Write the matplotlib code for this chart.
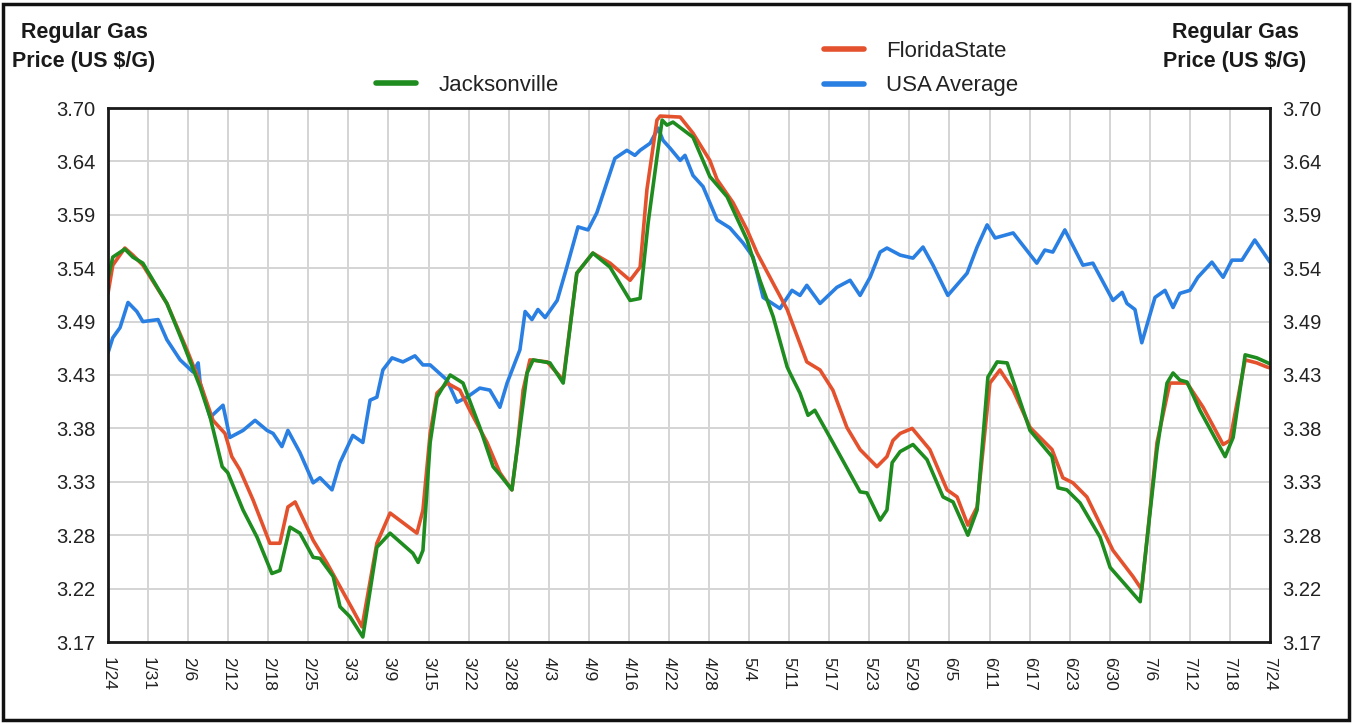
import matplotlib
matplotlib.use("Agg")
import matplotlib.pyplot as plt
from matplotlib.patches import Rectangle

plt.rcParams['font.family'] = ['Liberation Sans', 'DejaVu Sans']

# ---------------- data ----------------
date_labels = ["1/24", "1/31", "2/6", "2/12", "2/18", "2/25", "3/3", "3/9", "3/15", "3/22",
               "3/28", "4/3", "4/9", "4/16", "4/22", "4/28", "5/4", "5/11", "5/17", "5/23",
               "5/29", "6/5", "6/11", "6/17", "6/23", "6/30", "7/6", "7/12", "7/18", "7/24"]
y_ticks = [3.17, 3.223, 3.276, 3.329, 3.382, 3.435, 3.488, 3.541, 3.594, 3.647, 3.70]
y_tick_labels = ["3.17", "3.22", "3.28", "3.33", "3.38", "3.43", "3.49", "3.54", "3.59", "3.64", "3.70"]

# x positions in units of date-label intervals
jax_x = [0.00, 0.12, 0.42, 0.62, 0.87, 1.17, 1.47, 1.87, 2.30, 2.55, 2.85, 2.99, 3.37, 3.72,
         4.09, 4.29, 4.54, 4.79, 5.12, 5.29, 5.62, 5.79, 6.04, 6.36, 6.71, 7.04, 7.61, 7.74,
         7.86, 8.04, 8.21, 8.54, 8.86, 9.28, 9.61, 9.78, 10.08, 10.21, 10.46, 10.61, 11.03,
         11.36, 11.70, 12.10, 12.53, 13.03, 13.28, 13.48, 13.70, 13.83, 13.95, 14.10, 14.60,
         15.02, 15.45, 15.60, 15.95, 16.27, 16.60, 16.95, 17.02, 17.27, 17.47, 17.64, 18.09,
         18.77, 18.94, 19.27, 19.44, 19.57, 19.77, 20.09, 20.44, 20.84, 21.09, 21.46, 21.69,
         21.96, 22.19, 22.44, 23.01, 23.56, 23.71, 23.93, 24.26, 24.76, 25.01, 25.43, 25.76,
         26.18, 26.43, 26.58, 26.75, 26.93, 27.25, 27.88, 28.08, 28.38, 28.67, 28.95, 29.00]
jax_y = [3.531, 3.552, 3.560, 3.552, 3.546, 3.526, 3.506, 3.467, 3.423, 3.393, 3.344, 3.338,
         3.301, 3.274, 3.238, 3.241, 3.284, 3.278, 3.254, 3.253, 3.235, 3.205, 3.195, 3.175,
         3.264, 3.278, 3.258, 3.249, 3.261, 3.368, 3.413, 3.435, 3.427, 3.383, 3.344, 3.336,
         3.321, 3.361, 3.437, 3.450, 3.447, 3.427, 3.536, 3.556, 3.542, 3.509, 3.511, 3.586,
         3.651, 3.688, 3.683, 3.686, 3.671, 3.632, 3.612, 3.599, 3.569, 3.529, 3.493, 3.443,
         3.437, 3.417, 3.395, 3.400, 3.368, 3.319, 3.318, 3.291, 3.301, 3.348, 3.359, 3.366,
         3.351, 3.314, 3.309, 3.276, 3.301, 3.433, 3.448, 3.447, 3.380, 3.354, 3.323, 3.321,
         3.308, 3.274, 3.244, 3.225, 3.210, 3.361, 3.427, 3.437, 3.430, 3.428, 3.400, 3.354,
         3.373, 3.455, 3.452, 3.447, 3.446]

fl_x = [0.00, 0.12, 0.42, 0.62, 0.87, 1.47, 1.97, 2.30, 2.62, 2.92, 3.09, 3.29, 3.62, 4.04,
        4.29, 4.49, 4.67, 5.12, 5.47, 5.79, 6.11, 6.34, 6.71, 7.04, 7.71, 7.86, 8.04, 8.21,
        8.46, 8.78, 9.03, 9.46, 9.78, 10.08, 10.21, 10.36, 10.53, 10.96, 11.36, 11.70, 12.10,
        12.53, 13.03, 13.28, 13.45, 13.70, 13.78, 14.28, 14.60, 15.02, 15.20, 15.60, 15.95,
        16.20, 16.60, 16.95, 17.44, 17.77, 18.09, 18.44, 18.77, 19.19, 19.44, 19.59, 19.77,
        20.07, 20.51, 20.94, 21.19, 21.46, 21.69, 22.01, 22.26, 22.59, 23.01, 23.56, 23.83,
        24.08, 24.43, 25.08, 25.58, 25.80, 26.18, 26.50, 26.93, 27.33, 27.83, 28.00, 28.38,
        28.67, 28.92, 29.00]
fl_y = [3.516, 3.544, 3.561, 3.554, 3.544, 3.506, 3.460, 3.427, 3.390, 3.377, 3.354, 3.341,
        3.311, 3.268, 3.268, 3.304, 3.309, 3.271, 3.248, 3.225, 3.202, 3.185, 3.268, 3.298,
        3.278, 3.301, 3.377, 3.417, 3.427, 3.420, 3.400, 3.368, 3.338, 3.321, 3.361, 3.420,
        3.450, 3.448, 3.430, 3.536, 3.556, 3.546, 3.529, 3.542, 3.619, 3.688, 3.692, 3.691,
        3.675, 3.648, 3.629, 3.606, 3.579, 3.556, 3.526, 3.500, 3.448, 3.440, 3.420, 3.383,
        3.361, 3.344, 3.354, 3.370, 3.377, 3.382, 3.361, 3.321, 3.314, 3.286, 3.304, 3.427,
        3.440, 3.420, 3.383, 3.361, 3.333, 3.328, 3.314, 3.261, 3.235, 3.222, 3.368, 3.427,
        3.427, 3.403, 3.366, 3.370, 3.450, 3.447, 3.443, 3.442]

usa_x = [0.00, 0.12, 0.30, 0.50, 0.72, 0.87, 1.25, 1.47, 1.80, 2.12, 2.25, 2.30, 2.55, 2.87,
         3.04, 3.37, 3.67, 3.97, 4.12, 4.34, 4.49, 4.79, 5.12, 5.29, 5.59, 5.79, 6.11, 6.36,
         6.54, 6.71, 6.86, 7.09, 7.36, 7.66, 7.86, 8.04, 8.46, 8.71, 8.96, 9.28, 9.53, 9.78,
         9.96, 10.28, 10.41, 10.58, 10.73, 10.91, 11.21, 11.45, 11.73, 11.98, 12.20, 12.65,
         12.95, 13.15, 13.28, 13.53, 13.73, 13.85, 14.03, 14.28, 14.40, 14.60, 14.85, 15.20,
         15.52, 15.85, 16.10, 16.35, 16.77, 17.07, 17.27, 17.44, 17.77, 18.19, 18.52, 18.77,
         19.02, 19.27, 19.44, 19.77, 20.09, 20.34, 20.59, 20.96, 21.44, 21.69, 21.94, 22.14,
         22.59, 23.18, 23.38, 23.58, 23.88, 24.33, 24.58, 25.08, 25.31, 25.43, 25.63, 25.80,
         26.13, 26.38, 26.58, 26.75, 27.00, 27.20, 27.55, 27.83, 28.05, 28.30, 28.62, 29.00]
usa_y = [3.457, 3.472, 3.482, 3.507, 3.498, 3.488, 3.490, 3.470, 3.450, 3.438, 3.447, 3.427,
         3.393, 3.405, 3.373, 3.380, 3.390, 3.380, 3.377, 3.364, 3.380, 3.358, 3.328, 3.333,
         3.321, 3.348, 3.375, 3.368, 3.410, 3.413, 3.440, 3.452, 3.448, 3.454, 3.445, 3.445,
         3.430, 3.408, 3.413, 3.422, 3.420, 3.403, 3.427, 3.460, 3.498, 3.490, 3.500, 3.492,
         3.509, 3.542, 3.582, 3.579, 3.596, 3.650, 3.658, 3.653, 3.658, 3.665, 3.680, 3.668,
         3.660, 3.648, 3.653, 3.633, 3.622, 3.589, 3.581, 3.566, 3.552, 3.512, 3.501, 3.519,
         3.514, 3.524, 3.506, 3.522, 3.529, 3.514, 3.532, 3.557, 3.561, 3.554, 3.551, 3.562,
         3.544, 3.514, 3.536, 3.562, 3.584, 3.571, 3.576, 3.546, 3.559, 3.557, 3.579, 3.544,
         3.546, 3.509, 3.517, 3.506, 3.500, 3.467, 3.512, 3.519, 3.502, 3.516, 3.519, 3.532,
         3.547, 3.532, 3.549, 3.549, 3.569, 3.547]

# ---------------- figure ----------------
W, H = 1353, 723
fig = plt.figure(figsize=(W / 100, H / 100), dpi=100)
ax = fig.add_axes([108 / W, 1 - 642 / H, (1270 - 108) / W, (642 - 108) / H])

c_green = "#1e8c1e"
c_red = "#e4512d"
c_blue = "#2a7fe3"

lw = 2.6
l_usa, = ax.plot(usa_x, usa_y, color=c_blue, lw=lw, solid_joinstyle='round', solid_capstyle='round')
l_fl, = ax.plot(fl_x, fl_y, color=c_red, lw=lw, solid_joinstyle='round', solid_capstyle='round')
l_jax, = ax.plot(jax_x, jax_y, color=c_green, lw=lw, solid_joinstyle='round', solid_capstyle='round')

ax.set_xlim(0, len(date_labels) - 1)
ax.set_ylim(y_ticks[0], y_ticks[-1])
ax.set_xticks(range(len(date_labels)))
ax.set_xticklabels(date_labels, rotation=-90, fontsize=12.5, va='top', ha='center')
ax.set_yticks(y_ticks)
ax.set_yticklabels(y_tick_labels, fontsize=14.5)
ax.tick_params(axis='both', length=0, colors='#222222')
ax.tick_params(axis='y', pad=9, labelright=True)
ax.tick_params(axis='x', pad=11)
ax.grid(True, color='#d4d4d4', lw=1.4)
ax.set_axisbelow(True)
for s in ax.spines.values():
    s.set_color('#1a1a1a')
    s.set_linewidth(2)

title = "Regular Gas\nPrice (US $/G)"
fig.text(84 / W, 1 - 47 / H, title, ha='center', va='center', fontsize=15.5,
         fontweight='bold', color='#1a1a1a', linespacing=1.45)
fig.text(1235 / W, 1 - 47 / H, title, ha='center', va='center', fontsize=15.5,
         fontweight='bold', color='#1a1a1a', linespacing=1.45)

leg_kw = dict(frameon=False, fontsize=16, handlelength=1.8, handletextpad=1.0,
              borderpad=0, borderaxespad=0, labelcolor='#222222')
leg1 = fig.legend([l_jax], ["Jacksonville"], loc='upper left',
                  bbox_to_anchor=(376 / W, 1 - 75 / H), **leg_kw)
leg2 = fig.legend([l_fl, l_usa], ["FloridaState", "USA Average"], loc='upper left',
                  bbox_to_anchor=(824 / W, 1 - 41 / H), labelspacing=0.6, **leg_kw)
for lg in (leg1, leg2):
    for h in lg.legend_handles:
        h.set_linewidth(4)

fig.add_artist(Rectangle((3 / W, 3 / H), (W - 7) / W, (H - 7) / H, transform=fig.transFigure,
                         fill=False, edgecolor='#111111', lw=2.5))

fig.savefig("out.png", dpi=100)
